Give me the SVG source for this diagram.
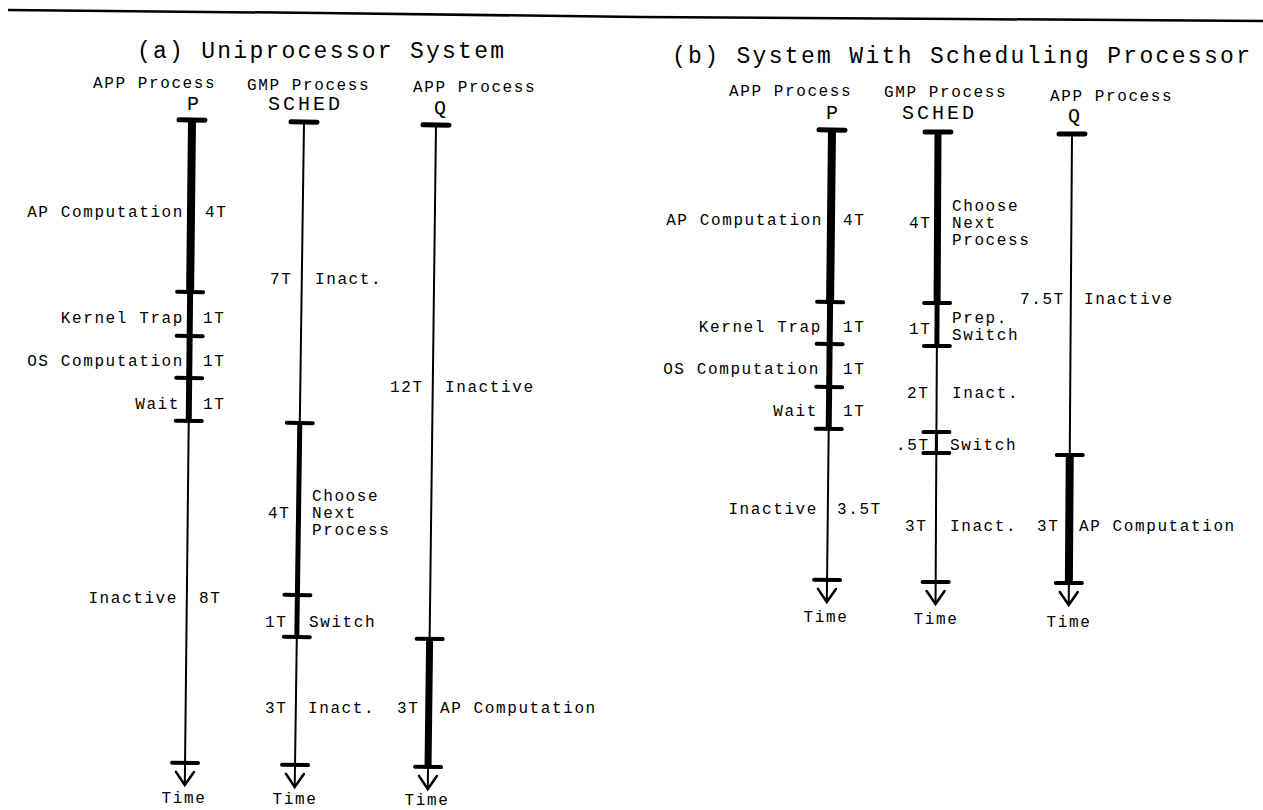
<svg xmlns="http://www.w3.org/2000/svg" width="1263" height="810" viewBox="0 0 1263 810">
<style>
text { font-family: "Liberation Mono", "DejaVu Sans Mono", monospace; fill: #000; }
.lbl { font-size: 16px; letter-spacing: 1.6px; }
.ttl { font-size: 23px; }
.big { font-size: 20px; letter-spacing: 3px; }
.one { font-size: 20px; }
.end { text-anchor: end; }
.mid { text-anchor: middle; }
line, polyline { stroke: #000; fill: none; }
.thin { stroke-width: 2; }
.med3 { stroke-width: 3; }
.med5 { stroke-width: 5; }
.med6 { stroke-width: 6; }
.thick7 { stroke-width: 7; }
.thick8 { stroke-width: 8; }
.tick { stroke-width: 4; stroke-linecap: round; }
.top { stroke-width: 5; stroke-linecap: round; }
.arr { stroke-width: 2.5; stroke-linecap: round; stroke-linejoin: miter; }
</style>

<polyline id="rule" class="thin" points="8,10 320,13 640,17 960,19 1263,21" style="stroke-width:2.5"/>

<!-- (a) Uniprocessor System -->
<g id="part-a">
  <text class="ttl" x="137" y="58" textLength="367" lengthAdjust="spacing">(a) Uniprocessor System</text>

  <g id="a-P">
    <text class="lbl" x="93" y="88">APP Process</text>
    <text class="one mid" x="193" y="110">P</text>
    <g transform="rotate(0.62 192 120)">
      <line class="thin" x1="192" y1="120" x2="192" y2="785"/>
      <line class="thick8" x1="192" y1="120" x2="192" y2="292"/>
      <line class="med6" x1="192" y1="292" x2="192" y2="421"/>
      <line class="top" x1="179" y1="120" x2="205" y2="120"/>
      <line class="tick" x1="179" y1="292" x2="205" y2="292"/>
      <line class="tick" x1="179" y1="336" x2="205" y2="336"/>
      <line class="tick" x1="179" y1="378" x2="205" y2="378"/>
      <line class="tick" x1="179" y1="421" x2="205" y2="421"/>
      <line class="tick" x1="179" y1="763" x2="205" y2="763"/>
      <polyline class="arr" points="183,772 192,785 201,772"/>
    </g>
    <text class="lbl end" x="184" y="217">AP Computation</text>
    <text class="lbl" x="205" y="217">4T</text>
    <text class="lbl end" x="184" y="323">Kernel Trap</text>
    <text class="lbl" x="203" y="323">1T</text>
    <text class="lbl end" x="184" y="366">OS Computation</text>
    <text class="lbl" x="203" y="366">1T</text>
    <text class="lbl end" x="180" y="409">Wait</text>
    <text class="lbl" x="203" y="409">1T</text>
    <text class="lbl end" x="178" y="603">Inactive</text>
    <text class="lbl" x="199" y="603">8T</text>
    <text class="lbl mid" x="184" y="803">Time</text>
  </g>

  <g id="a-SCHED">
    <text class="lbl" x="247" y="90">GMP Process</text>
    <text class="big" x="268" y="110">SCHED</text>
    <g transform="rotate(0.8 304 122)">
      <line class="thin" x1="304" y1="122" x2="304" y2="787"/>
      <line class="med5" x1="304" y1="423" x2="304" y2="637"/>
      <line class="top" x1="291" y1="122" x2="317" y2="122"/>
      <line class="tick" x1="291" y1="423" x2="317" y2="423"/>
      <line class="tick" x1="291" y1="595" x2="317" y2="595"/>
      <line class="tick" x1="291" y1="637" x2="317" y2="637"/>
      <line class="tick" x1="291" y1="765" x2="317" y2="765"/>
      <polyline class="arr" points="295,774 304,787 313,774"/>
    </g>
    <text class="lbl" x="270" y="284">7T</text>
    <text class="lbl" x="315" y="284">Inact.</text>
    <text class="lbl" x="268" y="518">4T</text>
    <text class="lbl" x="312" y="501">Choose</text>
    <text class="lbl" x="312" y="518">Next</text>
    <text class="lbl" x="312" y="535">Process</text>
    <text class="lbl" x="265" y="627">1T</text>
    <text class="lbl" x="309" y="627">Switch</text>
    <text class="lbl" x="265" y="713">3T</text>
    <text class="lbl" x="308" y="713">Inact.</text>
    <text class="lbl mid" x="295" y="804">Time</text>
  </g>

  <g id="a-Q">
    <text class="lbl" x="413" y="92">APP Process</text>
    <text class="one mid" x="440" y="114">Q</text>
    <g transform="rotate(0.71 436 125)">
      <line class="thin" x1="436" y1="125" x2="436" y2="789"/>
      <line class="thick7" x1="436" y1="639" x2="436" y2="767"/>
      <line class="top" x1="423" y1="125" x2="449" y2="125"/>
      <line class="tick" x1="423" y1="639" x2="449" y2="639"/>
      <line class="tick" x1="423" y1="767" x2="449" y2="767"/>
      <polyline class="arr" points="427,776 436,789 445,776"/>
    </g>
    <text class="lbl" x="390" y="392">12T</text>
    <text class="lbl" x="445" y="392">Inactive</text>
    <text class="lbl" x="397" y="713">3T</text>
    <text class="lbl" x="440" y="713">AP Computation</text>
    <text class="lbl mid" x="427" y="805">Time</text>
  </g>
</g>

<!-- (b) System With Scheduling Processor -->
<g id="part-b">
  <text class="ttl" x="672" y="63" textLength="578" lengthAdjust="spacing">(b) System With Scheduling Processor</text>

  <g id="b-P">
    <text class="lbl" x="729" y="96">APP Process</text>
    <text class="one mid" x="832" y="119">P</text>
    <g transform="rotate(0.63 832 130)">
      <line class="thin" x1="832" y1="130" x2="832" y2="602"/>
      <line class="thick8" x1="832" y1="130" x2="832" y2="302"/>
      <line class="med6" x1="832" y1="302" x2="832" y2="429"/>
      <line class="top" x1="819" y1="130" x2="845" y2="130"/>
      <line class="tick" x1="819" y1="302" x2="845" y2="302"/>
      <line class="tick" x1="819" y1="344" x2="845" y2="344"/>
      <line class="tick" x1="819" y1="387" x2="845" y2="387"/>
      <line class="tick" x1="819" y1="429" x2="845" y2="429"/>
      <line class="tick" x1="819" y1="580" x2="845" y2="580"/>
      <polyline class="arr" points="823,589 832,602 841,589"/>
    </g>
    <text class="lbl end" x="823" y="225">AP Computation</text>
    <text class="lbl" x="843" y="225">4T</text>
    <text class="lbl end" x="822" y="332">Kernel Trap</text>
    <text class="lbl" x="843" y="332">1T</text>
    <text class="lbl end" x="820" y="374">OS Computation</text>
    <text class="lbl" x="843" y="374">1T</text>
    <text class="lbl end" x="818" y="416">Wait</text>
    <text class="lbl" x="843" y="416">1T</text>
    <text class="lbl end" x="818" y="514">Inactive</text>
    <text class="lbl" x="837" y="514">3.5T</text>
    <text class="lbl mid" x="826" y="622">Time</text>
  </g>

  <g id="b-SCHED">
    <text class="lbl" x="884" y="97">GMP Process</text>
    <text class="big" x="902" y="119">SCHED</text>
    <g transform="rotate(0.3 938 132)">
      <line class="thin" x1="938" y1="132" x2="938" y2="604"/>
      <line class="thick7" x1="938" y1="132" x2="938" y2="303"/>
      <line class="med5" x1="938" y1="303" x2="938" y2="346"/>
      <line class="med3" x1="938" y1="432" x2="938" y2="453"/>
      <line class="top" x1="925" y1="132" x2="951" y2="132"/>
      <line class="tick" x1="925" y1="303" x2="951" y2="303"/>
      <line class="tick" x1="925" y1="346" x2="951" y2="346"/>
      <line class="tick" x1="925" y1="432" x2="951" y2="432"/>
      <line class="tick" x1="925" y1="453" x2="951" y2="453"/>
      <line class="tick" x1="925" y1="582" x2="951" y2="582"/>
      <polyline class="arr" points="929,591 938,604 947,591"/>
    </g>
    <text class="lbl" x="909" y="228">4T</text>
    <text class="lbl" x="952" y="211">Choose</text>
    <text class="lbl" x="952" y="228">Next</text>
    <text class="lbl" x="952" y="245">Process</text>
    <text class="lbl" x="909" y="334">1T</text>
    <text class="lbl" x="952" y="323">Prep.</text>
    <text class="lbl" x="952" y="340">Switch</text>
    <text class="lbl" x="907" y="398">2T</text>
    <text class="lbl" x="952" y="398">Inact.</text>
    <text class="lbl" x="896" y="450">.5T</text>
    <text class="lbl" x="950" y="450">Switch</text>
    <text class="lbl" x="905" y="531">3T</text>
    <text class="lbl" x="950" y="531">Inact.</text>
    <text class="lbl mid" x="936" y="624">Time</text>
  </g>

  <g id="b-Q">
    <text class="lbl" x="1050" y="101">APP Process</text>
    <text class="one mid" x="1074" y="122">Q</text>
    <g transform="rotate(0.4 1072 134)">
      <line class="thin" x1="1072" y1="134" x2="1072" y2="605"/>
      <line class="thick8" x1="1072" y1="455" x2="1072" y2="583"/>
      <line class="top" x1="1059" y1="134" x2="1085" y2="134"/>
      <line class="tick" x1="1059" y1="455" x2="1085" y2="455"/>
      <line class="tick" x1="1059" y1="583" x2="1085" y2="583"/>
      <polyline class="arr" points="1063,592 1072,605 1081,592"/>
    </g>
    <text class="lbl" x="1020" y="304">7.5T</text>
    <text class="lbl" x="1084" y="304">Inactive</text>
    <text class="lbl" x="1037" y="531">3T</text>
    <text class="lbl" x="1079" y="531">AP Computation</text>
    <text class="lbl mid" x="1069" y="627">Time</text>
  </g>
</g>
</svg>
